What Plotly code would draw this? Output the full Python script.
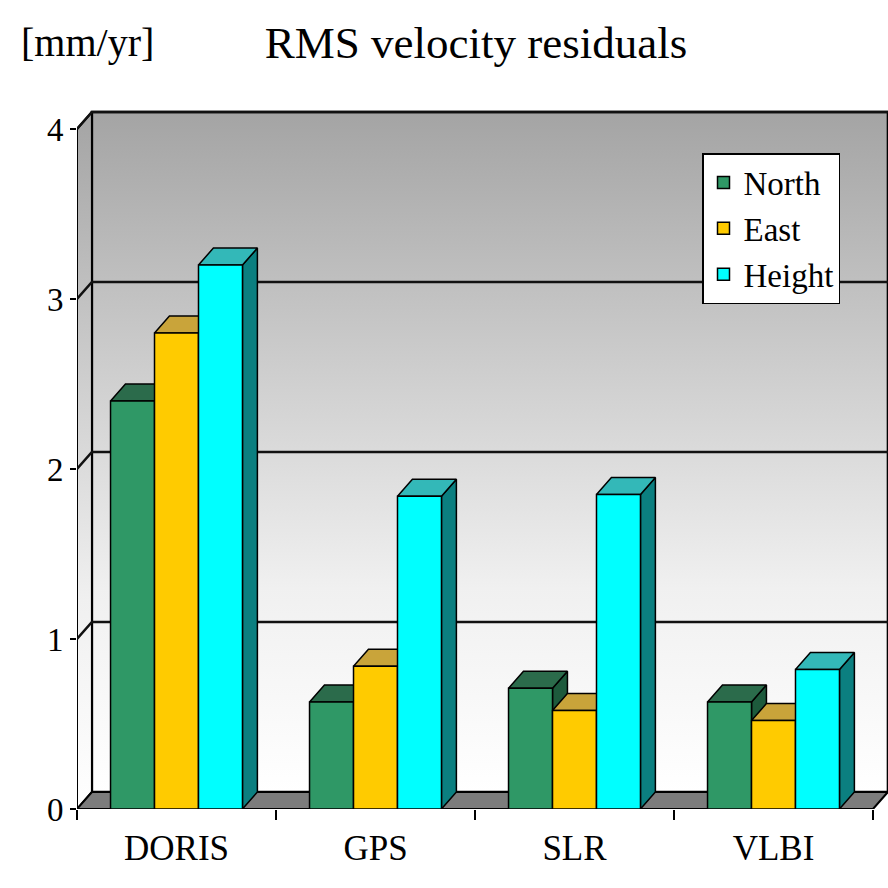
import plotly.graph_objects as go

# ---------------- data ----------------
categories = ["DORIS", "GPS", "SLR", "VLBI"]
series_names = ["North", "East", "Height"]
north = [2.4, 0.63, 0.71, 0.63]
east = [2.8, 0.84, 0.58, 0.52]
height = [3.2, 1.84, 1.85, 0.82]
y_ticks = [0, 1, 2, 3, 4]

# ---------------- style ----------------
front_cols = ["#2f9866", "#ffcb00", "#00ffff"]
top_cols = ["#2b6b4b", "#c9a43a", "#33b8b8"]
side_cols = ["#1d5a3c", "#9c7c00", "#0b7f80"]
FONT = "Liberation Serif"
DX, DY = 0.075, 0.10        # depth offset (x in category units, y in value units)
BW = 0.221                  # bar width in category units
YMAX = 4

fig = go.Figure()

def poly(xs, ys, fill, lw=1.5, **kw):
    fig.add_trace(go.Scatter(x=xs + [xs[0]], y=ys + [ys[0]], mode="lines", fill="toself",
                             fillcolor=fill, line=dict(color="black", width=lw),
                             hoverinfo="skip", showlegend=False, **kw))

n = len(categories)
grad = dict(type="vertical", colorscale=[[0, "#ffffff"], [0.3, "#f0f0f0"], [0.6, "#d0d0d0"], [1, "#a4a4a4"]])
# back wall
poly([DX, n + DX, n + DX, DX], [DY, DY, YMAX + DY, YMAX + DY], "#cccccc", lw=2.5, fillgradient=grad)
# left side wall
poly([0, DX, DX, 0], [0, DY, YMAX + DY, YMAX], "#cccccc", lw=2, fillgradient=grad)
# gridlines on back wall and diagonal ticks on side wall
for k in y_ticks[1:]:
    fig.add_trace(go.Scatter(x=[0, DX, n + DX], y=[k, k + DY, k + DY], mode="lines",
                             line=dict(color="#111111", width=2.5), hoverinfo="skip", showlegend=False))
# floor
poly([0, n, n + DX, DX], [0, 0, DY, DY], "#7c7c7c", lw=2)

# bars (painter's order: left to right, side, top, front)
vals = [north, east, height]
for i in range(n):
    for j in range(3):
        h = vals[j][i]
        l = i + 0.5 - 1.5 * BW + j * BW
        r = l + BW
        poly([r, r + DX, r + DX, r], [0, DY, h + DY, h], side_cols[j])
        poly([l, r, r + DX, l + DX], [h, h, h + DY, h + DY], top_cols[j])
        poly([l, r, r, l], [0, 0, h, h], front_cols[j])

# legend entries
for j in range(3):
    fig.add_trace(go.Bar(x=[None], y=[None], name=series_names[j],
                         marker=dict(color=front_cols[j], line=dict(color="black", width=1.5))))

W, H = 888, 888
ML, MB = 77, 79
plot_w, plot_h = W - ML, H - MB
px_per_cat = 199
px_per_unit = 170

fig.update_layout(
    width=W, height=H,
    margin=dict(l=ML, r=0, t=0, b=MB),
    paper_bgcolor="white", plot_bgcolor="white",
    font=dict(family=FONT, color="black"),
    showlegend=True,
    legend=dict(x=(702 - ML) / plot_w, y=(H - MB - 153) / plot_h, xanchor="left", yanchor="top",
                bgcolor="white", bordercolor="black", borderwidth=1.5,
                font=dict(family=FONT, size=33), traceorder="normal"),
    title=dict(text="RMS velocity residuals", x=476 / W, y=1 - 42 / H, xanchor="center",
               yanchor="middle", xref="container", yref="container",
               font=dict(family=FONT, size=45)),
    xaxis=dict(range=[0, plot_w / px_per_cat], showgrid=False, zeroline=False, showline=False,
               tickmode="array", tickvals=[i + 0.5 for i in range(n)], ticktext=categories,
               ticks="outside", ticklen=8, tickcolor="rgba(0,0,0,0)",
               tickfont=dict(family=FONT, size=35),
               minor=dict(tickmode="array", tickvals=list(range(n + 1)), ticks="outside",
                          ticklen=10, tickwidth=2, tickcolor="black", showgrid=False)),
    yaxis=dict(range=[0, plot_h / px_per_unit], showgrid=False, zeroline=False, showline=False,
               tickmode="array", tickvals=y_ticks, ticks="outside", ticklen=6, tickwidth=2,
               tickcolor="black", tickfont=dict(family=FONT, size=33)),
    annotations=[dict(text="[mm/yr]", xref="paper", yref="paper",
                      x=(87 - ML) / plot_w, y=(H - MB - 42) / plot_h,
                      xanchor="center", yanchor="middle", showarrow=False,
                      font=dict(family=FONT, size=40))],
)

fig.write_html("out.html")
